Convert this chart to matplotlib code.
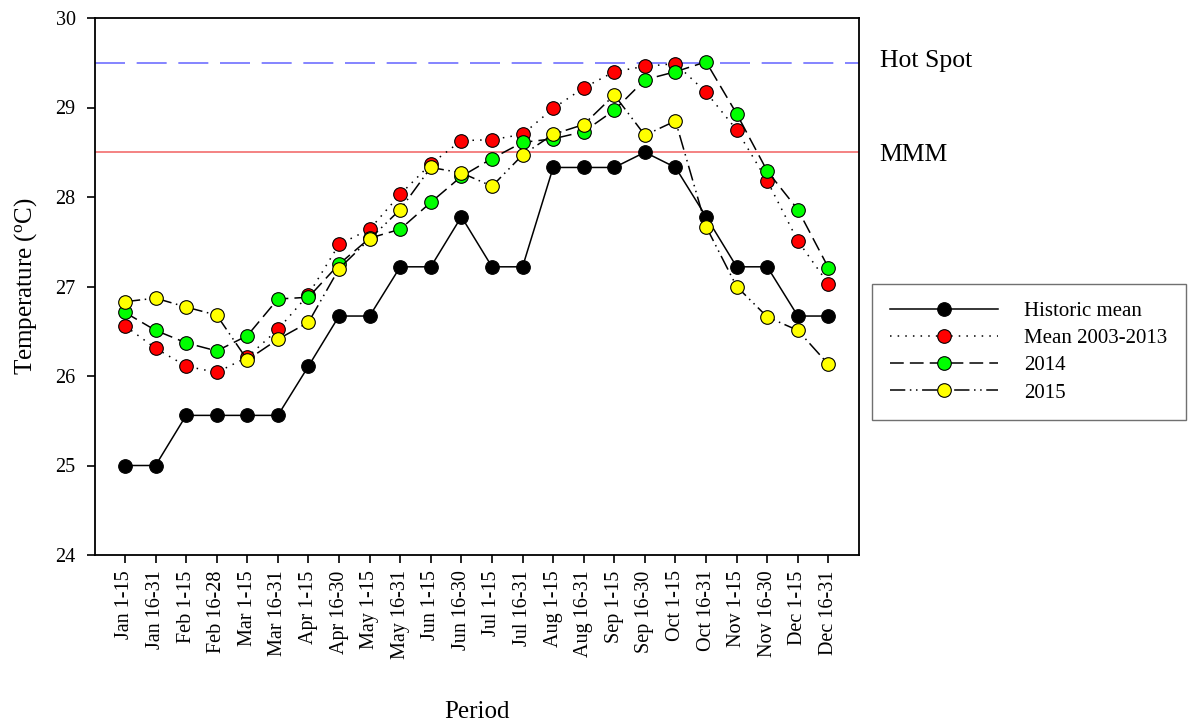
import matplotlib
matplotlib.use("Agg")
import matplotlib.pyplot as plt

plt.rcParams['font.family'] = ['Liberation Serif', 'DejaVu Serif']
plt.rcParams['mathtext.fontset'] = 'custom'
plt.rcParams['mathtext.rm'] = 'Liberation Serif'
plt.rcParams['mathtext.it'] = 'Liberation Serif:italic'

periods = ["Jan 1-15", "Jan 16-31", "Feb 1-15", "Feb 16-28", "Mar 1-15", "Mar 16-31",
           "Apr 1-15", "Apr 16-30", "May 1-15", "May 16-31", "Jun 1-15", "Jun 16-30",
           "Jul 1-15", "Jul 16-31", "Aug 1-15", "Aug 16-31", "Sep 1-15", "Sep 16-30",
           "Oct 1-15", "Oct 16-31", "Nov 1-15", "Nov 16-30", "Dec 1-15", "Dec 16-31"]

historic_mean = [25.0, 25.0, 25.56, 25.56, 25.56, 25.56, 26.11, 26.67, 26.67, 27.22, 27.22, 27.78,
                 27.22, 27.22, 28.33, 28.33, 28.33, 28.5, 28.33, 27.78, 27.22, 27.22, 26.67, 26.67]
mean_2003_2013 = [26.56, 26.31, 26.11, 26.04, 26.21, 26.52, 26.91, 27.47, 27.64, 28.03, 28.37, 28.63,
                  28.64, 28.70, 28.99, 29.22, 29.40, 29.46, 29.49, 29.17, 28.75, 28.18, 27.51, 27.03]
y2014 = [26.71, 26.51, 26.37, 26.28, 26.45, 26.86, 26.88, 27.25, 27.54, 27.64, 27.94, 28.23,
         28.43, 28.61, 28.65, 28.73, 28.97, 29.31, 29.40, 29.51, 28.93, 28.29, 27.86, 27.21]
y2015 = [26.83, 26.87, 26.77, 26.68, 26.18, 26.41, 26.60, 27.20, 27.53, 27.86, 28.33, 28.27,
         28.12, 28.47, 28.70, 28.81, 29.14, 28.69, 28.85, 27.67, 27.00, 26.66, 26.51, 26.13]

hot_spot = 29.5
mmm = 28.5

fig = plt.figure(figsize=(11.96, 7.24), dpi=100)
ax = fig.add_axes([95/1196, 1-555/724, (859-95)/1196, (555-18)/724])

x = list(range(len(periods)))
ms = 9.8
lw = 1.1
ax.axhline(hot_spot, color='#6f6fff', lw=1.2, dashes=(18, 7), zorder=1)
ax.axhline(mmm, color='#f26d6d', lw=1.2, zorder=1)

l1, = ax.plot(x, historic_mean, color='black', lw=lw, marker='o', ms=ms, mfc='black', mec='black', mew=0.8, zorder=3, label='Historic mean')
l2, = ax.plot(x, mean_2003_2013, color='black', lw=lw, ls=(0, (1, 4)), marker='o', ms=ms, mfc='#ff0000', mec='black', mew=0.8, zorder=4, label='Mean 2003-2013')
l3, = ax.plot(x, y2014, color='black', lw=lw, ls=(0, (9, 4)), marker='o', ms=ms, mfc='#00ff00', mec='black', mew=0.8, zorder=5, label='2014')
l4, = ax.plot(x, y2015, color='black', lw=lw, ls=(0, (10, 3, 1, 3, 1, 3)), marker='o', ms=ms, mfc='#ffff00', mec='black', mew=0.8, zorder=6, label='2015')

ax.set_xlim(-0.98, 24.0)
ax.set_ylim(24, 30)
ax.set_yticks([24, 25, 26, 27, 28, 29, 30])
ax.set_xticks(x)
ax.set_xticklabels(periods, rotation=90, fontsize=14.5)
ax.tick_params(axis='both', direction='out', length=6, width=1.2, labelsize=14.5)
ax.tick_params(axis='y', pad=8)
ax.tick_params(axis='x', pad=5)
for s in ax.spines.values():
    s.set_linewidth(1.3)

ax.set_ylabel('Temperature ($\\mathregular{^{o}}$C)', fontsize=18, labelpad=12)
ax.set_xlabel('Period', fontsize=18, labelpad=30)

ax.text(1.027, 29.45, 'Hot Spot', transform=ax.get_yaxis_transform(), fontsize=18.5, va='baseline', ha='left')
ax.text(1.027, 28.40, 'MMM', transform=ax.get_yaxis_transform(), fontsize=18.5, va='baseline', ha='left')

leg = fig.legend(handles=[l1, l2, l3, l4], loc='upper left',
                 bbox_to_anchor=(872/1196, 1-418/724, (1186-872)/1196, (418-284)/724),
                 mode='expand', fontsize=15, handlelength=5.2, handletextpad=1.25,
                 labelspacing=0.36, borderpad=0.85, fancybox=False, framealpha=1,
                 edgecolor='#707070', borderaxespad=0)
leg.get_frame().set_linewidth(1.0)

fig.savefig('out.png', dpi=100)
